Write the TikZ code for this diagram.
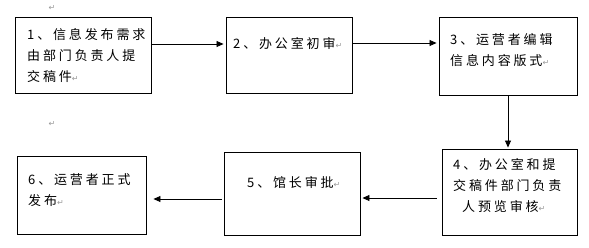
\documentclass[tikz,border=0pt]{standalone}
\usepackage{fontspec}
\usetikzlibrary{arrows.meta}
\newfontfamily\cjk[LetterSpace=22]{Noto Sans CJK SC}
\newfontfamily\dejavu{DejaVu Sans}
\newcommand{\retmark}{\textcolor{black!40}{\dejavu\fontsize{8}{8}\selectfont ↵}}
\begin{document}
\begin{tikzpicture}[x=1pt,y=-1pt,
  box/.style={draw,line width=0.9pt,inner sep=0pt},
  txt/.style={anchor=north west,inner sep=0pt,align=left,font=\cjk\fontsize{13}{21}\selectfont},
  flow/.style={line width=0.8pt,-{Triangle[length=7pt,width=6pt]}}]
\useasboundingbox (0,0) rectangle (589,247);

\node[box,minimum width=136pt,minimum height=76pt] (b1) at (83,55) {};
\node[box,minimum width=126pt,minimum height=76pt] (b2) at (289,55) {};
\node[box,minimum width=138pt,minimum height=78pt] (b3) at (508,56) {};
\node[box,minimum width=135pt,minimum height=86pt] (b4) at (509.5,192) {};
\node[box,minimum width=136pt,minimum height=83pt] (b5) at (292,193.5) {};
\node[box,minimum width=129pt,minimum height=78pt] (b6) at (81.5,195) {};

\node[txt] (t1) at (27,28) {1、信息发布需求\\由部门负责人提\\交稿件\retmark};
\node[txt] (t2) at (233,37) {2、办公室初审\retmark};
\node[txt] (t3) at (450,33) {3、运营者编辑\\信息内容版式\retmark};
\node[txt] (t4) at (453,158) {4、办公室和提\\交稿件部门负责\\\hspace{9pt}人预览审核\retmark};
\node[txt] (t5) at (247,176) {5、馆长审批\retmark};
\node[txt] (t6) at (28,173) {6、运营者正式\\发布\retmark};

\node[inner sep=0pt] (m1) at (52,8) {\retmark};
\node[inner sep=0pt] (m2) at (52,124) {\retmark};

\draw[flow,shorten >=2pt] ([yshift=11pt]b1.east) -- ([yshift=11pt]b2.west);
\draw[flow,shorten <=1pt,shorten >=2pt] ([yshift=12pt]b2.east) -- ([yshift=12pt]b2.east -| b3.west);
\draw[flow,shorten >=1pt] (b3.south) -- (b3.south |- b4.north);
\draw[flow,shorten <=5pt,shorten >=2pt] ([yshift=-6pt]b4.west) -- ([yshift=-6pt]b4.west -| b5.east);
\draw[flow,shorten <=2pt,shorten >=7pt] ([yshift=-5.5pt]b5.west) -- ([yshift=-5.5pt]b5.west -| b6.east);
\end{tikzpicture}
\end{document}
